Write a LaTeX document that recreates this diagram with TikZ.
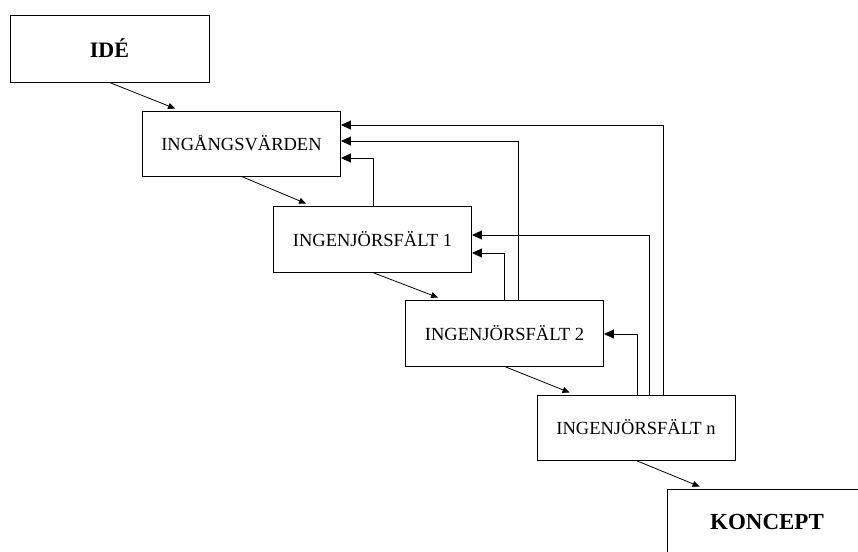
\documentclass[tikz,border=0pt]{standalone}
\usepackage{fontspec}
\setmainfont{Liberation Serif}
\usetikzlibrary{arrows.meta}

\tikzset{
    stegbox/.style={draw, line width=0.9pt, minimum width=198pt, minimum height=66pt,
        inner sep=0pt, font=\fontsize{18.5}{21}\selectfont},
    slutbox/.style={stegbox, font=\fontsize{22}{25}\selectfont\bfseries},
    framat/.style={-{Triangle[length=7pt,width=6pt]}, line width=0.8pt},
    bakat/.style={-{Triangle[length=10pt,width=9pt]}, line width=1pt},
}

\begin{document}
\begin{tikzpicture}[x=1pt,y=-1pt]

        % ===============================
        % Ram (bildens storlek)
        % ===============================
        \useasboundingbox (0,0) rectangle (858,551);
        \clip (0,0) rectangle (858,551);

        % ===============================
        % Steg i processen
        % ===============================
        \node[slutbox, minimum width=199pt, minimum height=67pt] (ide) at (109.5,48.5) {IDÉ};
        \node[stegbox, minimum height=65pt] (inv)  at (241.5,143.5) {INGÅNGSVÄRDEN};
        \node[stegbox] (ing1) at (372.5,239)   {INGENJÖRSFÄLT 1};
        \node[stegbox] (ing2) at (504.5,333)   {INGENJÖRSFÄLT 2};
        \node[stegbox, minimum height=65pt] (ingn) at (636,427.5)   {INGENJÖRSFÄLT n};
        \node[slutbox, minimum width=200pt, font=\fontsize{23}{26}\selectfont\bfseries] (koncept) at (767,522) {KONCEPT};

        % ===============================
        % Framåt: från steg till steg
        % ===============================
        \foreach \a/\b in {ide/inv, inv/ing1, ing1/ing2, ing2/ingn, ingn/koncept}{
                \draw[framat] (\a.south) -- ([xshift=33pt,yshift=2pt]\b.north west);
            }

        % ===============================
        % Bakåt: återkoppling
        % ===============================
        \foreach \a/\dx/\b/\dy in {
                ingn/27/inv/18.5,
                ing2/13.5/inv/2.5,
                ing1/0.5/inv/-14.5,
                ingn/13/ing1/4,
                ing2/0/ing1/-14,
                ingn/1/ing2/-1}{
                \draw[bakat] ([xshift=\dx pt]\a.north) |- ([yshift=\dy pt]\b.east);
            }

    \end{tikzpicture}
\end{document}
